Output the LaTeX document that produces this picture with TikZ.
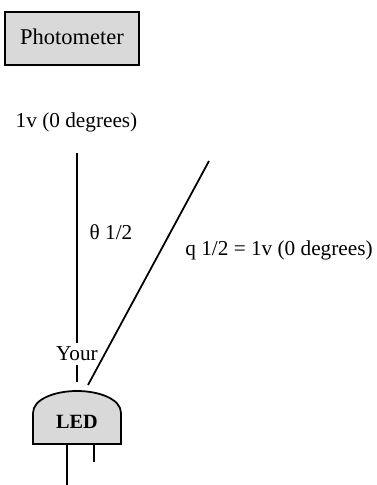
\documentclass[tikz,border=0pt]{standalone}
\usepackage{fontspec}
\setmainfont{Liberation Serif}
\usepackage{xcolor}
\usetikzlibrary{positioning}
\definecolor{myfill}{RGB}{217,217,217}
\tikzset{
  block/.style={rectangle, draw=black, fill=myfill, minimum width=2.68cm, minimum height=1.06cm,
    font=\fontsize{12.8}{15}\selectfont, line width=1pt},
  label/.style={font=\fontsize{12.1}{15}\selectfont, inner sep=1pt},
  line/.style={line width=1pt, color=black}
}
\begin{document}
\begin{tikzpicture}
  \useasboundingbox (0,0) rectangle (7.52,9.7);

  % Photometer box and labels
  \node[block] (photo) at (1.44,8.93) {\raisebox{2.5pt}{Photometer}};
  \node[label] (axis) at (1.53,7.26) {1v (0 degrees)};
  \node[label] (half) at (2.22,5.06) {θ 1/2};
  \node[label] (quarter) at (5.58,4.7) {q 1/2 = 1v (0 degrees)};
  \node[label, inner sep=2pt] (your) at (1.54,2.62) {Your};

  % LED body
  \draw[line, fill=myfill] (0.66,0.82) -- (0.66,1.44)
    .. controls (0.66,1.72) and (1.1,1.88) .. (1.54,1.88)
    .. controls (1.98,1.88) and (2.42,1.72) .. (2.42,1.44)
    -- (2.42,0.82) -- cycle;
  \node[font=\fontsize{11.5}{14}\selectfont\bfseries] (led) at (1.54,1.26) {LED};

  % End points
  \coordinate (axistop) at (1.54,6.64);
  \coordinate (axisbot) at (1.54,2.06);
  \coordinate (diagtop) at (4.18,6.48);
  \coordinate (diagbot) at (1.76,2.0);
  \coordinate (longtop) at (1.34,0.82);
  \coordinate (longbot) at (1.34,0);
  \coordinate (shorttop) at (1.88,0.82);
  \coordinate (shortbot) at (1.88,0.46);

  % Connections
  \draw[line] (axistop) -- (your);
  \draw[line] (your) -- (axisbot);
  \draw[line] (diagtop) -- (diagbot);
  \draw[line] (longtop) -- (longbot);
  \draw[line] (shorttop) -- (shortbot);

\end{tikzpicture}
\end{document}
